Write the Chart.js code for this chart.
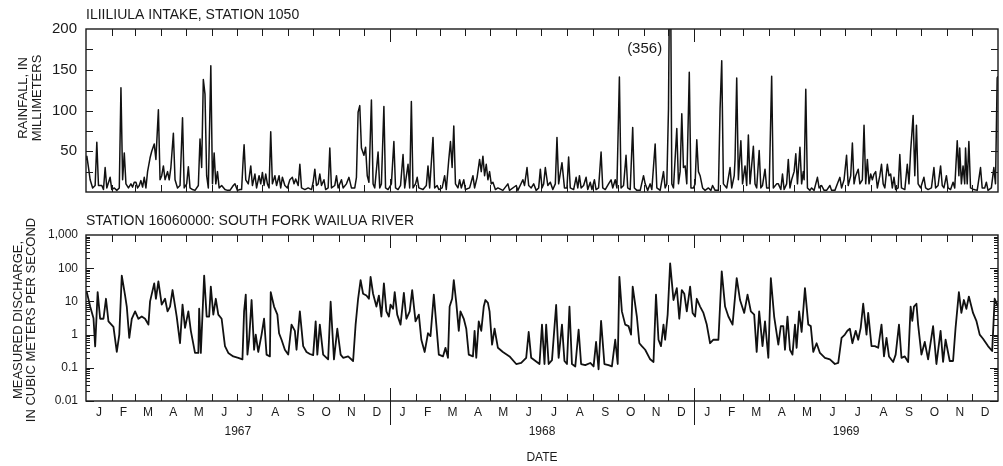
<!DOCTYPE html>
<html>
<head>
<meta charset="utf-8">
<script src="https://cdn.jsdelivr.net/npm/chart.js@4.4.0/dist/chart.umd.min.js"></script>
<style>
  body { margin: 0; background: #fff; }
  #wrap { position: relative; width: 1003px; height: 466px; }
  .box { position: absolute; left: 0; width: 1003px; }
</style>
</head>
<body>
<div id="wrap">
  <div class="box" style="top:0;height:210px"><canvas id="rainChart"></canvas></div>
  <div class="box" style="top:210px;height:256px"><canvas id="flowChart"></canvas></div>
</div>
<script>
const FONT = "'Liberation Sans', Arial, Helvetica, sans-serif";
const INK = '#1a1a1a';

const YEARS = [1967, 1968, 1969];
const MONTH_LETTERS = ['J', 'F', 'M', 'A', 'M', 'J', 'J', 'A', 'S', 'O', 'N', 'D'];
const rainTickValues = [25, 50, 75, 100, 125, 150, 175];
const flowTickLabels = { '-2': '0.01', '-1': '0.1', '0': '1', '1': '10', '2': '100', '3': '1,000' };

// daily rainfall, mm -- [day counted from 1 Jan 1967, value]
const rain1967 = [[0,40],[1,44],[3,30],[5,15],[8,5],[11,8],[13,61],[15,8],[19,8],[21,3],[23,30],[25,5],[29,18],[31,3],[34,5],[37,2],[40,5],[42,128],[44,15],[46,48],[48,10],[51,5],[54,10],[56,6],[58,12],[60,12],[62,5],[64,8],[66,14],[68,6],[70,18],[72,5],[74,25],[77,42],[79,50],[82,59],[84,40],[87,101],[89,15],[91,20],[93,32],[95,15],[98,25],[100,15],[102,30],[105,72],[107,15],[110,5],[113,8],[116,91],[118,5],[121,10],[123,31],[125,5],[128,3],[131,2],[135,8],[137,65],[139,30],[141,138],[143,120],[145,20],[147,5],[150,155],[152,10],[154,48],[156,10],[158,25],[160,5],[163,8],[167,3],[170,2],[173,2],[177,8],[179,10],[182,2],[185,3],[187,3],[189,42],[190,58],[192,15],[195,10],[198,32],[200,8],[203,22],[205,5],[208,20],[210,10],[212,24],[214,8],[216,22],[218,10],[220,5],[222,74],[224,10],[227,20],[229,8],[232,20],[234,5],[236,18],[239,8],[242,5],[245,15],[248,18],[250,10],[252,16],[255,8],[257,34],[259,5],[263,3],[267,5],[271,3],[273,12],[275,28],[277,8],[279,10],[281,22],[283,8],[286,15],[288,3],[291,5],[293,54],[295,5],[299,8],[301,20],[303,5],[307,15],[309,5],[313,10],[316,18],[319,5],[323,5],[325,18],[327,98],[329,106],[331,54],[334,45],[336,55],[338,20],[340,12],[343,113],[345,10],[347,5],[351,49],[353,5],[355,10],[358,105],[360,5],[363,3]];
const rain1968 = [[367,10],[370,62],[372,5],[375,3],[378,8],[381,46],[383,5],[387,34],[389,5],[391,111],[393,5],[396,10],[398,18],[400,5],[405,3],[409,8],[411,32],[413,5],[417,67],[419,5],[422,8],[424,3],[428,5],[431,20],[433,3],[436,40],[438,62],[440,30],[442,81],[444,10],[447,5],[449,15],[451,5],[454,15],[456,3],[461,5],[465,20],[467,5],[470,18],[473,40],[475,25],[477,44],[479,20],[481,34],[483,15],[485,25],[487,10],[489,12],[492,3],[495,5],[501,2],[507,10],[509,2],[517,8],[519,2],[525,15],[527,8],[530,30],[532,8],[535,5],[538,10],[541,2],[544,5],[546,28],[548,5],[550,10],[552,30],[555,8],[558,12],[561,3],[564,10],[566,67],[568,10],[572,36],[575,5],[578,5],[580,43],[582,5],[586,3],[589,18],[591,5],[593,20],[595,5],[598,8],[601,18],[603,3],[606,12],[608,3],[611,15],[613,3],[616,5],[619,49],[621,5],[624,3],[628,10],[631,15],[633,5],[636,15],[638,5],[641,141],[643,5],[646,8],[649,45],[651,5],[654,3],[657,79],[659,5],[662,2],[666,2],[670,20],[672,10],[675,2],[678,10],[680,3],[684,59],[686,5],[690,2],[694,25],[696,5],[698,10],[700,102],[702,356],[704,10],[706,5],[710,78],[712,10],[714,25],[716,96],[718,30],[720,32],[722,10],[725,147],[727,5],[730,5]];
const rain1969 = [[732,10],[734,64],[736,25],[738,20],[741,5],[744,2],[748,5],[751,2],[753,8],[756,2],[760,2],[762,102],[764,161],[766,10],[770,5],[774,30],[776,5],[779,20],[780,40],[782,140],[784,15],[787,63],[789,10],[792,32],[794,8],[796,70],[798,10],[802,56],[804,10],[806,5],[809,51],[811,5],[813,8],[816,28],[818,5],[821,5],[824,142],[826,5],[830,10],[832,10],[835,3],[837,22],[839,3],[842,10],[844,40],[846,5],[848,15],[851,25],[853,47],[855,10],[858,55],[860,10],[862,25],[863,15],[865,126],[867,5],[870,2],[872,5],[875,2],[879,18],[881,5],[884,8],[887,2],[890,2],[894,8],[896,2],[900,2],[903,10],[906,18],[908,5],[911,15],[914,45],[916,8],[919,20],[921,60],[923,10],[925,20],[928,28],[930,10],[933,15],[935,82],[937,10],[939,40],[941,10],[943,22],[945,15],[947,22],[949,25],[951,5],[954,20],[956,34],[958,10],[960,5],[963,34],[965,20],[967,22],[969,5],[971,18],[973,3],[976,5],[978,46],[980,5],[984,3],[987,34],[989,10],[991,50],[994,94],[996,20],[998,82],[1000,10],[1003,5],[1007,18],[1009,5],[1012,3],[1016,5],[1019,30],[1021,5],[1024,8],[1027,32],[1029,8],[1031,5],[1034,20],[1036,5],[1039,3],[1042,12],[1044,5],[1047,63],[1049,20],[1050,54],[1052,10],[1054,32],[1056,10],[1057,54],[1059,10],[1061,62],[1063,5],[1067,3],[1071,2],[1075,30],[1077,5],[1080,5],[1082,12],[1084,2],[1088,5],[1091,30],[1093,10],[1095,140],[1096,142]];

// measured discharge, m3/s -- [day counted from 1 Jan 1967, value]
const flow1967 = [[0,18],[1,19],[5,7],[9,3.1],[11,0.44],[14,19],[17,3],[21,3],[24,12],[27,2.5],[33,1.7],[37,0.3],[40,1],[43,60],[47,15],[49,7],[52,0.8],[55,3],[59,5],[63,3],[67,3.5],[71,3],[75,2],[77,10],[82,35],[84,12],[87,40],[91,8],[95,12],[98,5],[101,7],[104,22],[109,3.5],[113,0.55],[116,8],[119,1.6],[123,5],[126,1.3],[131,0.28],[135,0.28],[136,6],[138,0.28],[142,60],[145,3.5],[148,3.5],[150,28],[153,4],[156,12],[159,4],[163,3],[167,0.45],[171,0.28],[177,0.22],[183,0.2],[188,0.18],[190,5],[192,16],[194,0.25],[196,0.7],[199,11],[202,0.35],[204,1],[207,0.3],[211,1],[214,3],[217,0.25],[221,0.22],[222,19],[226,7],[230,4],[232,1.1],[235,0.7],[239,0.35],[243,0.25],[247,2],[251,1.3],[253,0.35],[257,5],[261,0.45],[265,0.3],[269,0.26],[273,0.24],[276,2.5],[278,0.25],[281,2],[285,0.25],[291,0.18],[294,9.8],[298,0.18],[302,1.5],[306,0.25],[309,0.2],[315,0.22],[321,0.16],[324,2],[327,12],[330,44],[333,17],[337,15],[340,12],[342,55],[345,17],[349,7],[352,15],[355,3.5],[358,35],[361,5],[364,3.5]];
const flow1968 = [[366,8],[369,6],[371,19],[374,4],[378,2],[382,18],[385,3],[389,5],[392,22],[396,2.5],[400,4],[403,0.7],[407,0.3],[411,1.1],[414,0.9],[418,16],[421,2],[424,0.25],[429,0.22],[432,0.4],[435,0.2],[437,7],[440,12],[442,44],[445,9],[448,1.3],[450,5],[454,3],[457,1.5],[460,0.25],[465,0.22],[467,1.3],[469,0.2],[472,2.5],[475,1.3],[478,7],[480,11],[483,9],[485,5],[488,0.5],[491,1.5],[495,0.4],[501,0.3],[509,0.22],[517,0.13],[523,0.14],[529,0.2],[532,1.2],[535,0.2],[545,0.13],[548,2],[551,0.13],[553,2],[556,0.13],[560,0.17],[565,7.8],[568,0.2],[572,2],[575,0.16],[578,0.13],[581,7],[584,0.13],[588,0.11],[592,1.4],[595,0.13],[600,0.12],[606,0.14],[610,0.11],[613,0.6],[616,0.09],[619,2.6],[623,0.13],[628,0.12],[632,0.11],[636,0.7],[639,0.13],[641,55],[644,5],[648,2],[652,1.8],[655,1],[657,28],[662,3.5],[665,0.55],[668,0.45],[672,0.35],[678,0.18],[682,0.15],[685,16],[688,0.7],[691,0.45],[694,2],[696,0.7],[699,4],[702,140],[706,11],[710,25],[713,3],[716,22],[719,17],[722,5],[726,28],[729,4.5]];
const flow1969 = [[732,3.5],[734,12],[738,7],[742,4.5],[746,2],[750,0.55],[754,0.7],[760,0.7],[764,80],[768,7],[772,3.5],[777,2],[782,50],[786,11],[791,4.5],[795,16],[799,5],[803,4],[806,0.3],[809,5],[813,0.45],[816,2.5],[820,0.2],[823,50],[827,3.5],[832,0.5],[835,1.8],[838,1.8],[840,0.35],[843,3.5],[846,0.35],[849,0.25],[852,2],[854,0.4],[857,5],[860,1.2],[864,25],[868,2],[871,1.8],[874,0.3],[878,0.55],[882,0.28],[888,0.2],[894,0.18],[900,0.13],[904,0.14],[908,0.8],[912,1],[915,1.3],[918,1.5],[921,0.55],[925,1.3],[928,0.7],[931,1.6],[934,8.5],[938,1],[940,4.5],[944,0.45],[948,0.45],[952,0.4],[956,2],[959,0.22],[962,0.8],[965,0.22],[970,0.15],[973,0.25],[977,2],[980,0.2],[984,0.22],[988,0.15],[991,7],[993,2.6],[995,7],[998,8.5],[1000,2],[1004,0.25],[1008,0.6],[1012,0.18],[1018,1.8],[1022,0.13],[1027,1.3],[1030,0.15],[1033,0.7],[1038,0.16],[1042,0.16],[1045,1.6],[1049,19],[1052,4.5],[1055,11],[1058,6],[1061,14],[1066,4.5],[1070,2.6],[1074,1],[1078,0.75],[1084,0.45],[1089,0.32],[1092,12],[1096,7]];

// the one storm that runs off the top of the rainfall panel
const offScaleDay = 702;
const offScaleLabel = '(356)';

// month boundaries (day numbers) from the calendar
const monthStarts = [];
let dayCount = 0;
YEARS.forEach(function (y) {
  var lens = [31, y % 4 === 0 ? 29 : 28, 31, 30, 31, 30, 31, 31, 30, 31, 30, 31];
  lens.forEach(function (n) { monthStarts.push(dayCount); dayCount += n; });
});
const totalDays = dayCount;
const yearStarts = [0, monthStarts[12], monthStarts[24]];

function toPoints(pairs) {
  return pairs.map(function (p) { return { x: p[0], y: p[1] }; });
}

// frame, inward ticks and the texts around each panel
const panelDecor = {
  id: 'panelDecor',
  afterDatasetsDraw(chart, args, opts) {
    const ctx = chart.ctx, a = chart.chartArea;
    const xs = chart.scales.x, ys = chart.scales.y;
    ctx.save();
    ctx.strokeStyle = INK;
    ctx.lineWidth = 1.4;
    ctx.strokeRect(a.left, a.top, a.right - a.left, a.bottom - a.top);

    ctx.lineWidth = 1;
    ctx.beginPath();
    monthStarts.forEach(function (d) {
      if (d === 0) return;
      const px = Math.round(xs.getPixelForValue(d)) + 0.5;
      const isYear = yearStarts.indexOf(d) >= 0;
      const len = isYear ? 13 : 7;
      ctx.moveTo(px, a.top); ctx.lineTo(px, a.top + len);
      ctx.moveTo(px, a.bottom); ctx.lineTo(px, a.bottom - len);
      if (isYear && opts.yearDrop) {
        ctx.moveTo(px, a.bottom); ctx.lineTo(px, a.bottom + opts.yearDrop);
      }
    });
    opts.yTicks.forEach(function (t) {
      const py = Math.round(ys.getPixelForValue(t.v)) + 0.5;
      ctx.moveTo(a.left, py); ctx.lineTo(a.left + t.len, py);
      ctx.moveTo(a.right, py); ctx.lineTo(a.right - t.len, py);
    });
    ctx.stroke();

    ctx.fillStyle = INK;
    ctx.font = '14px ' + FONT;
    ctx.textAlign = 'left';
    ctx.textBaseline = 'alphabetic';
    ctx.fillText(opts.title, a.left, a.top - 10);

    ctx.font = '13px ' + FONT;
    ctx.textAlign = 'center';
    ctx.textBaseline = 'middle';
    opts.yTitle.forEach(function (line, i) {
      ctx.save();
      ctx.translate(opts.yTitleX[i], opts.yTitleY);
      ctx.rotate(-Math.PI / 2);
      ctx.fillText(line, 0, 0);
      ctx.restore();
    });

    if (opts.peak) {
      ctx.font = '15px ' + FONT;
      ctx.textAlign = 'right';
      ctx.fillText(opts.peak.label, xs.getPixelForValue(opts.peak.day) - 8, a.top + 20);
    }

    if (opts.dateAxis) {
      ctx.font = '12px ' + FONT;
      ctx.textAlign = 'center';
      monthStarts.forEach(function (d, i) {
        const end = i + 1 < monthStarts.length ? monthStarts[i + 1] : totalDays;
        ctx.fillText(MONTH_LETTERS[i % 12], xs.getPixelForValue((d + end) / 2), a.bottom + 12);
      });
      YEARS.forEach(function (y, i) {
        const end = i + 1 < yearStarts.length ? yearStarts[i + 1] : totalDays;
        ctx.fillText(String(y), xs.getPixelForValue((yearStarts[i] + end) / 2), a.bottom + 31);
      });
      ctx.fillText('DATE', (a.left + a.right) / 2, a.bottom + 57);
    }
    ctx.restore();
  }
};

const lineStyle = { borderColor: '#111', pointRadius: 0, borderJoinStyle: 'round', tension: 0 };

new Chart(document.getElementById('rainChart'), {
  type: 'line',
  data: {
    datasets: [Object.assign({
      data: toPoints(rain1967.concat(rain1968, rain1969)),
      borderWidth: 1.5
    }, lineStyle)]
  },
  options: {
    responsive: true,
    maintainAspectRatio: false,
    animation: false,
    layout: { padding: { top: 29, right: 5, bottom: 15, left: 0 } },
    plugins: {
      legend: { display: false },
      tooltip: { enabled: false },
      panelDecor: {
        title: 'ILIILIULA INTAKE, STATION 1050',
        yTitle: ['RAINFALL, IN', 'MILLIMETERS'],
        yTitleX: [23, 37],
        yTitleY: 98,
        yTicks: rainTickValues.map(function (v) { return { v: v, len: 7 }; }),
        peak: { day: offScaleDay, label: offScaleLabel }
      }
    },
    scales: {
      x: { type: 'linear', min: 0, max: totalDays, display: false },
      y: {
        min: 0, max: 200,
        afterFit: function (s) { s.width = 86; },
        grid: { display: false, drawTicks: false },
        border: { display: false },
        ticks: {
          stepSize: 50, padding: 9, color: INK,
          font: { family: FONT, size: 15 },
          callback: function (v) { return v === 0 ? '' : v; }
        }
      }
    }
  },
  plugins: [panelDecor]
});

const flowTicks = [];
for (let e = -2; e <= 2; e++) {
  for (let k = 1; k <= 9; k++) flowTicks.push({ v: k * Math.pow(10, e), len: k === 1 ? 8 : 4 });
}

new Chart(document.getElementById('flowChart'), {
  type: 'line',
  data: {
    datasets: [Object.assign({
      data: toPoints(flow1967.concat(flow1968, flow1969)),
      borderWidth: 1.8
    }, lineStyle)]
  },
  options: {
    responsive: true,
    maintainAspectRatio: false,
    animation: false,
    layout: { padding: { top: 25, right: 5, bottom: 65, left: 0 } },
    plugins: {
      legend: { display: false },
      tooltip: { enabled: false },
      panelDecor: {
        title: 'STATION 16060000: SOUTH FORK WAILUA RIVER',
        yTitle: ['MEASURED DISCHARGE,', 'IN CUBIC METERS PER SECOND'],
        yTitleX: [18, 31],
        yTitleY: 110,
        yTicks: flowTicks,
        yearDrop: 24,
        dateAxis: true
      }
    },
    scales: {
      x: { type: 'linear', min: 0, max: totalDays, display: false },
      y: {
        type: 'logarithmic',
        min: 0.01, max: 1000,
        afterFit: function (s) { s.width = 86; },
        grid: { display: false, drawTicks: false },
        border: { display: false },
        ticks: {
          autoSkip: false, padding: 8, color: INK,
          font: { family: FONT, size: 12 },
          callback: function (v) {
            const l = Math.log10(v), r = Math.round(l);
            return Math.abs(l - r) < 1e-6 ? flowTickLabels[String(r)] : '';
          }
        }
      }
    }
  },
  plugins: [panelDecor]
});
</script>
</body>
</html>
